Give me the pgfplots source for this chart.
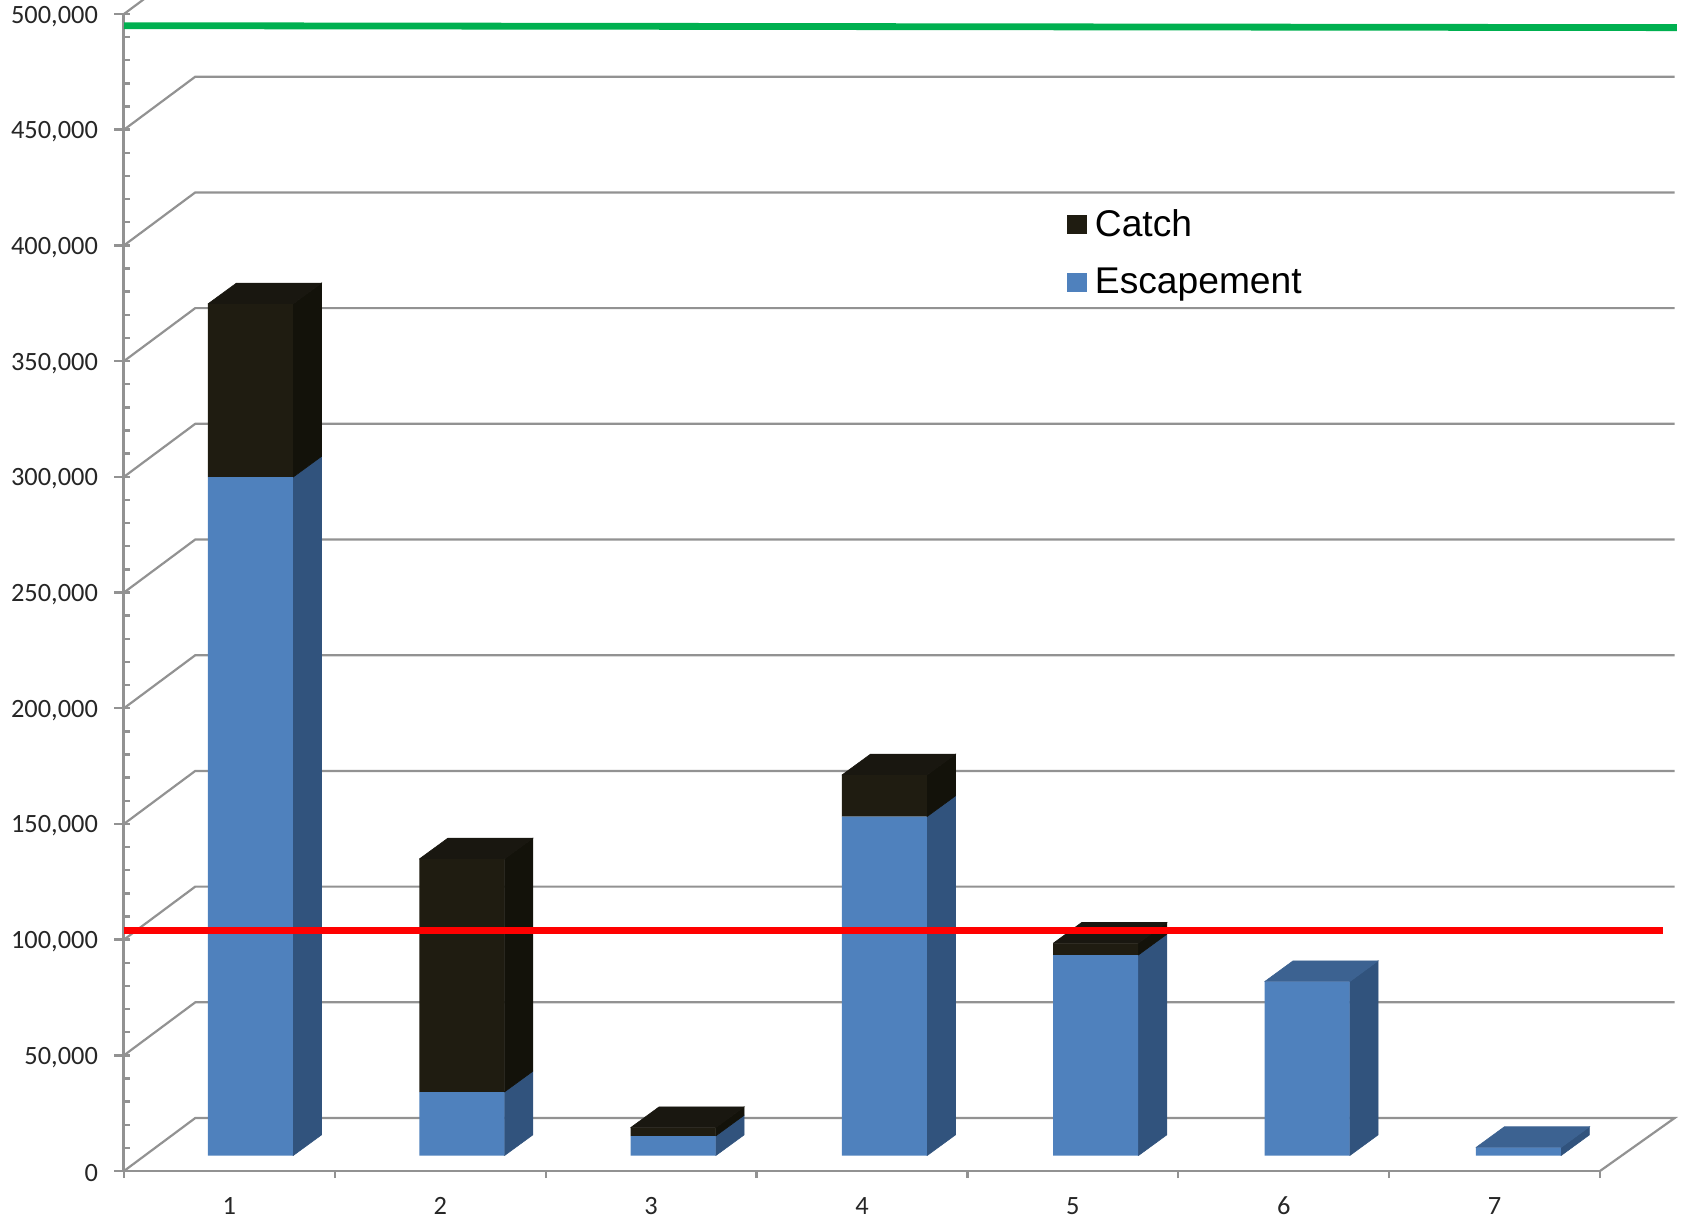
\documentclass[border=0pt]{standalone}
\usepackage{pgfplots}
\pgfplotsset{compat=1.18}
\usepackage{fontspec}
\setmainfont{Carlito}
\newfontfamily\legendfont{Liberation Sans}

\definecolor{axisgrey}{HTML}{929292}
\definecolor{ticktext}{HTML}{262626}
\definecolor{escfront}{HTML}{4F81BD}
\definecolor{escside}{HTML}{31537D}
\definecolor{esctop}{HTML}{3C6291}
\definecolor{catfront}{HTML}{1F1C11}
\definecolor{catside}{HTML}{13120A}
\definecolor{cattop}{HTML}{191710}
\definecolor{goalgreen}{HTML}{00B050}
\definecolor{goalred}{HTML}{FF0000}

% Side and top faces of one bar segment: centre, lower value, upper value
\newcommand{\sideface}[4]{%
  \pgfmathsetmacro\xfr{#1+0.2012}%
  \pgfmathsetmacro\xbr{#1+0.2012+0.135}%
  \edef\ylo{\the\numexpr#2+9000\relax}%
  \edef\yhi{\the\numexpr#3+9000\relax}%
  \addplot[fill=#4,draw=#4,line width=0.3pt] coordinates
    {(\xfr,#2) (\xbr,\ylo) (\xbr,\yhi) (\xfr,#3) (\xfr,#2)};
}
\newcommand{\topface}[3]{%
  \pgfmathsetmacro\xfl{#1-0.2012}%
  \pgfmathsetmacro\xbl{#1-0.2012+0.135}%
  \pgfmathsetmacro\xfr{#1+0.2012}%
  \pgfmathsetmacro\xbr{#1+0.2012+0.135}%
  \edef\yhi{\the\numexpr#2+9000\relax}%
  \addplot[fill=#3,draw=#3,line width=0.3pt] coordinates
    {(\xfl,#2) (\xbl,\yhi) (\xbr,\yhi) (\xfr,#2) (\xfl,#2)};
}

\pgfplotsset{
  base/.style={
    scale only axis, width=738pt, height=578.5pt,
    xmin=0, xmax=7, ymin=0, ymax=500000, clip=false,
  },
  % the bars stand mid-depth on the floor, so their plane sits up and to the right
  barplane/.style={base, width=739.6pt, at={(10.4pt,7.65pt)}, hide axis},
  wall/.style={line width=1.1pt, axisgrey, mark=none, forget plot},
}

\begin{document}
\begin{tikzpicture}
\clip[use as bounding box] (-62pt,-25pt) rectangle (780pt,585.5pt);

% Category axis along the floor
\begin{axis}[base,
  axis x line*=bottom, axis y line=none,
  /pgf/number format/assume math mode=true,
  xtick={0,1,2,3,4,5,6,7},
  xticklabels={1,2,3,4,5,6,7},
  x tick label as interval,
  xminorticks=false,
  tick align=outside, major tick length=3.5pt,
  x axis line style={line width=1.3pt, axisgrey},
  xtick style={line width=1.1pt, axisgrey},
  xticklabel style={font=\fontsize{13.2}{15}\selectfont, text=ticktext, yshift=-6pt},
]
\end{axis}

% Value axis, wall gridlines and floor edge
\begin{axis}[base,
  axis y line*=left, axis x line=none,
  /pgf/number format/fixed,
  /pgf/number format/precision=0,
  /pgf/number format/assume math mode=true,
  /pgf/number format/1000 sep={,},
  ytick={0,50000,100000,150000,200000,250000,300000,350000,400000,450000,500000},
  minor y tick num=4,
  scaled y ticks=false,
  tick align=center,
  major tick length=7.5pt, minor tick length=3pt,
  major tick style={line width=1.2pt, axisgrey, xshift=-1pt},
  minor tick style={line width=1.2pt, axisgrey, xshift=1.5pt},
  y axis line style={line width=1.5pt, axisgrey},
  yticklabel style={font=\fontsize{13.2}{15}\selectfont, text=ticktext, xshift=-5.75pt, yshift=-1.1pt},
]
\addplot[wall] coordinates {(0,0) (0.338,22900) (7.354,22900) (7,0)};
\addplot[wall] coordinates {(0,50000) (0.338,72900) (7.354,72900)};
\addplot[wall] coordinates {(0,100000) (0.338,122900) (7.354,122900)};
\addplot[wall] coordinates {(0,150000) (0.338,172900) (7.354,172900)};
\addplot[wall] coordinates {(0,200000) (0.338,222900) (7.354,222900)};
\addplot[wall] coordinates {(0,250000) (0.338,272900) (7.354,272900)};
\addplot[wall] coordinates {(0,300000) (0.338,322900) (7.354,322900)};
\addplot[wall] coordinates {(0,350000) (0.338,372900) (7.354,372900)};
\addplot[wall] coordinates {(0,400000) (0.338,422900) (7.354,422900)};
\addplot[wall] coordinates {(0,450000) (0.338,472900) (7.354,472900)};
\addplot[wall] coordinates {(0,500000) (0.338,522900) (7.354,522900)};
\end{axis}

% Depth faces of the bars
\begin{axis}[barplane]
\sideface{0.5}{0}{293200}{escside}
\sideface{0.5}{293200}{368100}{catside}
\topface{0.5}{368100}{cattop}
\sideface{1.5}{0}{27500}{escside}
\sideface{1.5}{27500}{128200}{catside}
\topface{1.5}{128200}{cattop}
\sideface{2.5}{0}{8500}{escside}
\sideface{2.5}{8500}{12100}{catside}
\topface{2.5}{12100}{cattop}
\sideface{3.5}{0}{146500}{escside}
\sideface{3.5}{146500}{164500}{catside}
\topface{3.5}{164500}{cattop}
\sideface{4.5}{0}{86700}{escside}
\sideface{4.5}{86700}{91800}{catside}
\topface{4.5}{91800}{cattop}
\sideface{5.5}{0}{75200}{escside}
\topface{5.5}{75200}{esctop}
\sideface{6.5}{0}{3500}{escside}
\topface{6.5}{3500}{esctop}
\end{axis}

% Stacked front faces and the legend
\begin{axis}[barplane,
  ybar stacked, bar width=0.4023,
  reverse legend,
  legend cell align=left,
  legend image code/.code={\fill[#1] (0pt,-4.8pt) rectangle (10pt,4.8pt);},
  legend style={at={(0.6234,0.8181)}, anchor=north west, draw=none, fill=none,
    inner sep=0pt, outer sep=0pt, row sep=14.5pt,
    font=\legendfont\fontsize{18.6}{20}\selectfont,
    nodes={inner xsep=4pt, inner ysep=0pt}},
]
\addplot[fill=escfront,draw=none] coordinates
  {(0.5,293200) (1.5,27500) (2.5,8500) (3.5,146500) (4.5,86700) (5.5,75200) (6.5,3500)};
\addlegendentry{Escapement}
\addplot[fill=catfront,draw=none] coordinates
  {(0.5,74900) (1.5,100700) (2.5,3600) (3.5,18000) (4.5,5100) (5.5,0) (6.5,0)};
\addlegendentry{Catch}
\end{axis}

% Upper and lower reference lines across the whole plot
\begin{axis}[base, hide axis]
\addplot[line width=3.4pt, goalgreen, mark=none] coordinates {(0,494950) (7.364,494100)};
\addplot[line width=3.4pt, goalred, mark=none] coordinates {(0,103850) (7.297,103850)};
\end{axis}
\end{tikzpicture}
\end{document}
